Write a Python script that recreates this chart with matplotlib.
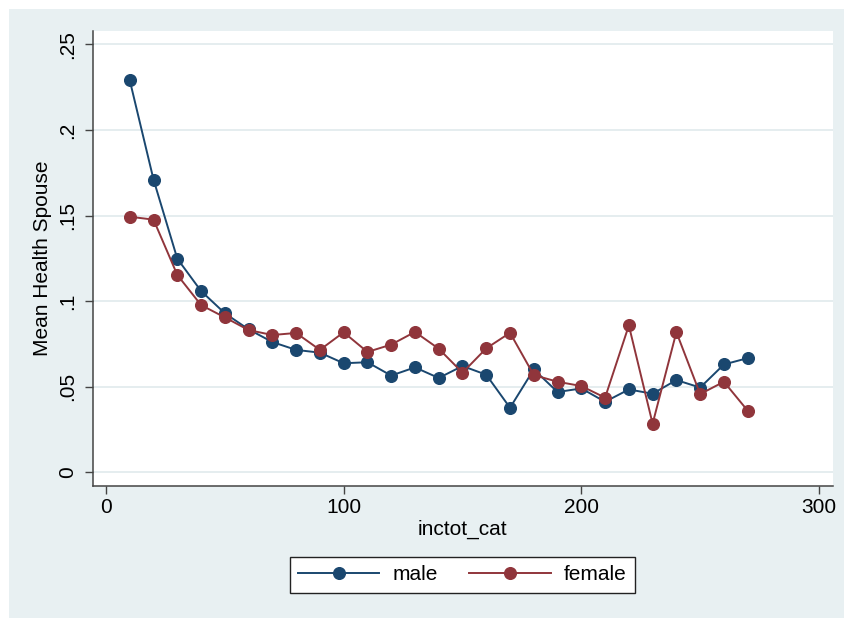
import matplotlib
matplotlib.use("Agg")
import matplotlib.pyplot as plt
from matplotlib.patches import Rectangle

plt.rcParams['font.family'] = ['Liberation Sans', 'DejaVu Sans']

inctot_cat = [10, 20, 30, 40, 50, 60, 70, 80, 90, 100, 110, 120, 130, 140,
              150, 160, 170, 180, 190, 200, 210, 220, 230, 240, 250, 260, 270]
male = [0.229, 0.171, 0.1248, 0.1059, 0.0929, 0.0835, 0.0761, 0.0715, 0.0699,
        0.0637, 0.0643, 0.0565, 0.0613, 0.0551, 0.0621, 0.0570, 0.0377, 0.0601,
        0.0469, 0.0490, 0.0412, 0.0484, 0.0459, 0.0539, 0.0495, 0.0630, 0.0667]
female = [0.1493, 0.1476, 0.1153, 0.0977, 0.0905, 0.0831, 0.0802, 0.0814,
          0.0715, 0.0818, 0.0703, 0.0746, 0.0820, 0.0722, 0.0582, 0.0724,
          0.0815, 0.0568, 0.0529, 0.0504, 0.0436, 0.0858, 0.0284, 0.0819,
          0.0457, 0.0529, 0.0360]
series_labels = ["male", "female"]
yticks = [0, 0.05, 0.1, 0.15, 0.2, 0.25]
yticklabels = ["0", ".05", ".1", ".15", ".2", ".25"]
xticks = [0, 100, 200, 300]
xticklabels = ["0", "100", "200", "300"]

W, H = 844, 618
fig = plt.figure(figsize=(W / 100, H / 100), dpi=100, facecolor="white")
bg = "#E8F0F2"
fig.patches.append(Rectangle((9 / W, 0), 1 - 9 / W, 1 - 9 / H,
                             transform=fig.transFigure, facecolor=bg,
                             edgecolor="none", zorder=-10))

L, R, T, B = 93, 833, 31, 486
ax = fig.add_axes([L / W, 1 - B / H, (R - L) / W, (B - T) / H])
ax.set_zorder(1)
ax.set_facecolor("white")

navy = "#1A476F"
maroon = "#90353B"
FS = 15

ax.plot(inctot_cat, male, color=navy, lw=1.4, marker="o", ms=8.4,
        label=series_labels[0], zorder=3)
ax.plot(inctot_cat, female, color=maroon, lw=1.4, marker="o", ms=8.4,
        label=series_labels[1], zorder=4)

ax.set_xlim(-5.47, 305.9)
ax.set_ylim(-0.0080, 0.2578)
ax.set_yticks(yticks)
ax.set_yticklabels(yticklabels)
ax.set_xticks(xticks)
ax.set_xticklabels(xticklabels)

ax.grid(axis="y", color="#E3ECEE", lw=1.3, zorder=1)
ax.set_axisbelow(True)

for s in ["top", "right"]:
    ax.spines[s].set_visible(False)
for s in ["left", "bottom"]:
    ax.spines[s].set_color("#444444")
    ax.spines[s].set_linewidth(1.1)

ax.tick_params(axis="both", colors="#444444", width=1.0, length=5.8,
               labelsize=FS, labelcolor="black")
ax.tick_params(axis="y", pad=5.5)
ax.tick_params(axis="x", pad=3)
for lab in ax.get_yticklabels():
    lab.set_rotation(90)
    lab.set_va("center")

ax.text((462 - L) / (R - L), -(535 - B) / (B - T), "inctot_cat",
        transform=ax.transAxes, ha="center", va="baseline", fontsize=FS)
ax.text((43 - L) / (R - L), 0.5, "Mean Health Spouse",
        transform=ax.transAxes, ha="center", va="center", rotation=90,
        fontsize=FS)

leg = fig.legend(loc="center",
                 bbox_to_anchor=((288 + 637) / 2 / W, 1 - (556 + 594) / 2 / H),
                 ncol=2, fontsize=FS, frameon=True, fancybox=False,
                 handlelength=3.9, handletextpad=0.65, columnspacing=1.5,
                 borderpad=0.4, numpoints=1)
fr = leg.get_frame()
fr.set_edgecolor("#222222")
fr.set_linewidth(1.0)
fr.set_facecolor("white")
fr.set_alpha(1)

fig.savefig("out.png", dpi=100, facecolor=fig.get_facecolor())
